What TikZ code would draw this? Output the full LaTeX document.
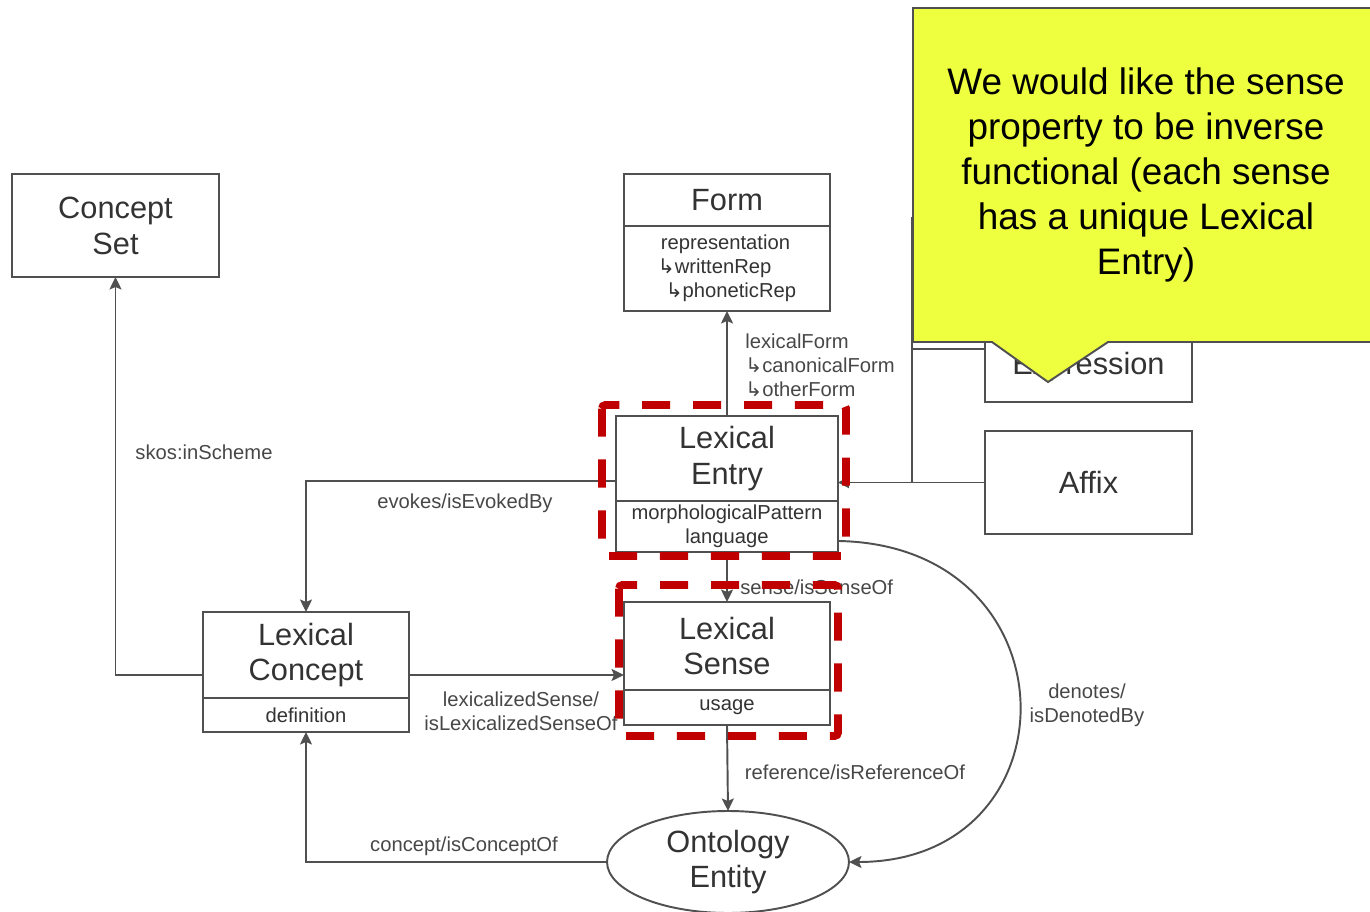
\documentclass[tikz,border=0pt]{standalone}
\usepackage{fontspec}
\setmainfont{Liberation Sans}
\newfontfamily\glyphfont{DejaVu Sans}
\usepackage{xcolor}
\usepackage{tikz}
\usetikzlibrary{arrows.meta,shapes.geometric,positioning}

\definecolor{umlline}{HTML}{505050}
\definecolor{umltext}{HTML}{333333}
\definecolor{notefill}{HTML}{EEFF40}
\definecolor{hlred}{HTML}{C00000}
\newcommand{\subprop}{{\glyphfont\char"21B3}}

\begin{document}
\begin{tikzpicture}[
    x=0.02cm,y=-0.02cm,
    >={Stealth[length=2.5mm,width=2.4mm,inset=0.5mm]},
    every node/.style={text=umltext},
    cls/.style={draw=umlline,line width=1.1pt,fill=white,inner sep=0pt,outer sep=0pt,
                align=center,font=\fontsize{17.5}{20.4}\selectfont},
    attr/.style={draw=umlline,line width=1.1pt,fill=white,inner sep=0pt,outer sep=0pt,
                 align=center,font=\fontsize{11.5}{13.6}\selectfont},
    lbl/.style={font=\fontsize{11.5}{13.6}\selectfont,text=black!72,inner sep=0pt},
    uml/.style={->,draw=umlline,line width=1.1pt},
    hl/.style={draw=hlred,line width=4.5pt,dash pattern=on 16pt off 13pt,rounded corners=2pt},
  ]
  \useasboundingbox (0,0) rectangle (1370,912);

  % -- the classes --
  \node[cls,minimum width=4.14cm,minimum height=2.06cm] (conceptset) at (115.5,225.5) {Concept\\Set};
  \node[cls,minimum width=4.12cm,minimum height=1.04cm] (form) at (727,200) {Form};
  \node[attr,minimum width=4.12cm,minimum height=1.70cm,align=left,below=0pt of form] (formattr)
       {\hspace*{1.7pt}representation\\\subprop writtenRep\\\hspace*{4.5pt}\subprop phoneticRep};
  \node[cls,minimum width=4.44cm,minimum height=1.70cm] (entry) at (727,458.5) {Lexical\\Entry};
  \node[attr,minimum width=4.44cm,minimum height=1.02cm,below=0pt of entry] (entryattr)
       {morphologicalPattern\\language};
  \node[cls,minimum width=4.12cm,minimum height=1.76cm] (sense) at (727,646) {Lexical\\Sense};
  \node[attr,minimum width=4.12cm,minimum height=0.70cm,below=0pt of sense] (senseattr) {usage};
  \node[cls,minimum width=4.12cm,minimum height=1.72cm] (lexconcept) at (306,655) {Lexical\\Concept};
  \node[attr,minimum width=4.12cm,minimum height=0.68cm,below=0pt of lexconcept] (lexconattr) {definition};
  \node[cls,ellipse,minimum width=4.84cm,minimum height=2.04cm] (ontology) at (728,862) {Ontology\\Entity};
  \node[cls,minimum width=4.14cm,minimum height=2.12cm] (multi) at (1088.5,349) {Multiword\\Expression};
  \node[cls,minimum width=4.14cm,minimum height=2.06cm] (affix) at (1088.5,482.5) {Affix};

  % -- the subclass tree --
  \coordinate (fork) at (912,482.5);
  \draw[draw=umlline,line width=1.1pt,-{Triangle[open,length=2.2mm,width=2.2mm]}]
       (affix.west) -- (affix.west -| entry.east);
  \draw[draw=umlline,line width=1.1pt] (fork) -- (fork |- 0,217);
  \draw[draw=umlline,line width=1.1pt] (fork) |- (multi.west);

  % -- the properties --
  \draw[uml] ([yshift=-0.4cm]lexconcept.west) -| (conceptset.south);
  \draw[uml] ([yshift=-0.45cm]entry.west) -| (lexconcept.north);
  \draw[uml] (entry.north) -- (formattr.south);
  \draw[uml] (entryattr.south) -- (sense.north);
  \draw[uml] ([yshift=-0.4cm]lexconcept.east) -- ([yshift=-0.4cm]lexconcept.east -| sense.west);
  \draw[uml] (senseattr.south) -- (ontology.north);
  \draw[uml] (ontology.west) -| (lexconattr.south);
  \draw[uml] ([yshift=-0.29cm]entryattr.east) .. controls (1078,545) and (1078,862) .. (ontology.east);

  \node[lbl] (lblscheme) at (204,452) {skos:inScheme};
  \node[lbl] (lblevokes) at (465,503) {evokes/isEvokedBy};
  \node[lbl,align=left,anchor=west] (lblform) at (745,365)
       {lexicalForm\\\subprop canonicalForm\\\subprop otherForm};
  \node[lbl,anchor=west] (lblsense) at (740,587) {sense/isSenseOf};
  \node[lbl,align=center] (lbllexsense) at (521,711) {lexicalizedSense/\\isLexicalizedSenseOf};
  \node[lbl] (lblref) at (855,772) {reference/isReferenceOf};
  \node[lbl] (lblconcept) at (464,846) {concept/isConceptOf};
  \node[lbl,align=center] (lbldenotes) at (1087,705) {denotes/\\isDenotedBy};

  % -- the highlighted pair --
  \draw[hl] (602,405) rectangle (846,556);
  \draw[hl] (619,585) rectangle (838,736);

  % -- the note --
  \draw[draw=umlline,line width=1.1pt,fill=notefill]
       (913,8) -- (1376,8) -- (1376,342) -- (1108,342) -- (1048,382) -- (992,342) -- (913,342) -- cycle;
  \node[text=black,align=center,font=\fontsize{21}{25.5}\selectfont] (note) at (1146,175)
       {We would like the sense\\property to be inverse\\functional (each sense\\has a unique Lexical\\Entry)};
\end{tikzpicture}
\end{document}
